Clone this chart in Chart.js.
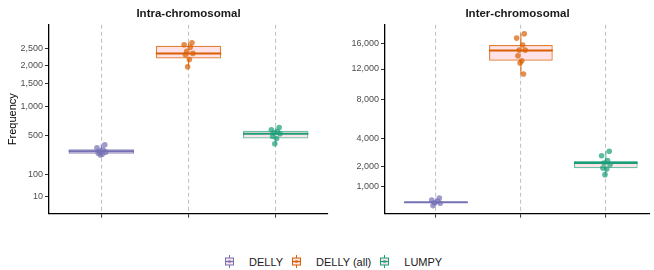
<!DOCTYPE html>
<html>
<head>
<meta charset="utf-8">
<script src="https://cdn.jsdelivr.net/npm/chart.js@4/dist/chart.umd.min.js"></script>
<style>
  body { margin: 0; width: 654px; height: 270px; background: #fff; overflow: hidden;
         font-family: "Liberation Sans", Arial, sans-serif; }
  canvas { position: absolute; top: 0; }
  #intraChart { left: 0; }
  #interChart { left: 333px; }
  #legend { position: absolute; left: 225px; top: 255px; display: flex; align-items: center;
            font-size: 11px; color: #1a1a1a; }
  #legend svg { margin-right: 15px; }
  #legend span { margin-right: 9px; }
</style>
</head>
<body>
<canvas id="intraChart" width="333" height="221"></canvas>
<canvas id="interChart" width="321" height="221"></canvas>
<div id="legend"></div>

<script>
// ---- data ----
const tools = ["DELLY", "DELLY (all)", "LUMPY"];

// Intra-chromosomal
const intra_points = [
  [377, 340, 322, 305, 292, 280, 270, 262],
  [2680, 2620, 2540, 2410, 2345, 2300, 2160, 1950],
  [620, 585, 560, 539, 525, 486, 459, 390]
];
const intra_lo  = [262, 1960, 390];
const intra_q1  = [275, 2193, 459];
const intra_med = [303, 2344, 525];
const intra_q3  = [325, 2586, 569];
const intra_hi  = [377, 2680, 620];
const intra_ticks = [10, 100, 500, 1000, 1500, 2000, 2500];

// Inter-chromosomal
const inter_points = [
  [571, 509, 470, 430, 415, 354],
  [17670, 16920, 15740, 14910, 14900, 14000, 13230, 12880, 11280],
  [3010, 2700, 2370, 2220, 2120, 1920, 1860, 1550]
];
const inter_lo  = [354, 11280, 1550];
const inter_q1  = [430, 13230, 1900];
const inter_med = [440, 14850, 2220];
const inter_q3  = [450, 15740, 2350];
const inter_hi  = [571, 17670, 3010];
const inter_ticks = [1000, 2000, 4000, 8000, 12000, 16000];

// ---- styles ----
const COLORS = ["#7570B3", "#D95F02", "#1B9E77"];
const POINT_COLORS = ["rgba(117,112,179,0.7)", "rgba(217,95,2,0.7)", "rgba(27,158,119,0.7)"];
const EDGE_COLORS = ["rgba(117,112,179,0.8)", "rgba(217,95,2,0.8)", "rgba(27,158,119,0.65)"];
const BOX_FILL = "rgba(255,192,203,0.45)";
const BOX_W = 0.75;  // box width in category units (ggplot default)
const JIT = [0.04, -0.05, 0.02, -0.02, 0.05, -0.035, 0.01, -0.01, 0.03];

// square-root y scale (like ggplot scale_y_sqrt)
const tf = v => Math.sign(v) * Math.sqrt(Math.abs(v));
const itf = s => Math.sign(s) * s * s;

class SqrtScale extends Chart.LinearScale {
  configure() {
    super.configure();
    this._sMin = tf(this.min);
    this._sMax = tf(this.max);
  }
  getPixelForValue(v) {
    return this.getPixelForDecimal((tf(v) - this._sMin) / (this._sMax - this._sMin));
  }
  getValueForPixel(p) {
    return itf(this._sMin + this.getDecimalForPixel(p) * (this._sMax - this._sMin));
  }
}
SqrtScale.id = "sqrt";
SqrtScale.defaults = Chart.LinearScale.defaults;
Chart.register(SqrtScale);

function makeChart(id, title, points, lo, q1, med, q3, hi, yTicks, yMin, yMax, xMax, opt) {
  const jitterData = [];
  points.forEach((vals, i) => {
    vals.forEach((v, j) => jitterData.push({ x: i + JIT[j % JIT.length], y: v, c: i }));
  });

  const datasets = [
    {
      type: "scatter",
      order: 0,
      data: jitterData,
      pointRadius: 2.8,
      pointBorderWidth: 0,
      pointBackgroundColor: ctx => POINT_COLORS[ctx.raw.c],
    },
    {
      type: "bar",
      order: 3,
      grouped: false,
      data: tools.map((t, i) => ({ x: i, y: [q1[i], q3[i]] })),
      backgroundColor: BOX_FILL,
      borderColor: EDGE_COLORS,
      borderWidth: 1.2,
      borderSkipped: false,
      barPercentage: BOX_W,
      categoryPercentage: 1,
    },
  ];

  // median segment + whiskers, one pair of line datasets per tool
  tools.forEach((t, i) => {
    datasets.push({
      type: "line",
      order: 1,
      data: [{ x: i - BOX_W / 2, y: med[i] }, { x: i + BOX_W / 2, y: med[i] }],
      borderColor: COLORS[i],
      borderWidth: 2,
      pointRadius: 0,
    });
    datasets.push({
      type: "line",
      order: 2,
      data: [{ x: i, y: lo[i] }, { x: i, y: q1[i] }, { x: i, y: null },
             { x: i, y: q3[i] }, { x: i, y: hi[i] }],
      borderColor: EDGE_COLORS[i],
      borderWidth: 1.2,
      pointRadius: 0,
      spanGaps: false,
    });
  });

  return new Chart(document.getElementById(id), {
    type: "bar",
    data: { datasets },
    options: {
      responsive: false,
      animation: false,
      events: [],
      layout: { padding: { left: 0, right: opt.padRight, top: 0, bottom: 0 } },
      plugins: {
        legend: { display: false },
        tooltip: { enabled: false },
        title: {
          display: true,
          text: title,
          fullSize: false,
          color: "#1a1a1a",
          font: { family: "Liberation Sans", size: 11.5, weight: "bold" },
          padding: { top: 7, bottom: 4 },
        },
      },
      scales: {
        x: {
          type: "linear",
          min: -0.6,
          max: xMax,
          offset: false,
          afterBuildTicks: axis => { axis.ticks = [0, 1, 2].map(v => ({ value: v })); },
          afterFit: axis => { axis.height = 5; },
          ticks: { display: false },
          grid: {
            display: true,
            offset: false,
            drawOnChartArea: true,
            drawTicks: true,
            tickLength: 4,
            color: "#c4c4c4",
            lineWidth: 1.1,
            tickColor: "#333",
            tickWidth: 1,
          },
          border: { display: true, color: "#000", width: 1.3, dash: [4, 3] },
        },
        y: {
          type: "sqrt",
          min: yMin,
          max: yMax,
          afterBuildTicks: axis => { axis.ticks = yTicks.map(v => ({ value: v })); },
          afterFit: axis => { axis.width = opt.axisWidth; },
          ticks: {
            padding: 2,
            color: "#4d4d4d",
            font: { family: "Liberation Sans", size: 9 },
            callback: v => v.toLocaleString("en-US"),
          },
          grid: {
            display: true,
            drawOnChartArea: false,
            drawTicks: true,
            tickLength: 4,
            tickColor: "#333",
          },
          border: { display: true, color: "#000", width: 1.3 },
          title: {
            display: opt.yTitle,
            text: "Frequency",
            color: "#000",
            font: { family: "Liberation Sans", size: 11 },
            padding: { top: 6, bottom: 0 },
          },
        },
      },
    },
  });
}

makeChart("intraChart", "Intra-chromosomal", intra_points,
  intra_lo, intra_q1, intra_med, intra_q3, intra_hi,
  intra_ticks, -5.8, 3306, 2.6,
  { axisWidth: 49, padRight: 5, yTitle: true });

makeChart("interChart", "Inter-chromosomal", inter_points,
  inter_lo, inter_q1, inter_med, inter_q3, inter_hi,
  inter_ticks, 182, 19296, 2.52,
  { axisWidth: 52, padRight: 0, yTitle: false });

// legend (box glyph + label)
const legend = document.getElementById("legend");
tools.forEach((t, i) => {
  legend.insertAdjacentHTML("beforeend",
    '<svg width="9" height="13" viewBox="0 0 9 13">' +
    '<line x1="4.5" y1="0" x2="4.5" y2="13" stroke="' + COLORS[i] + '" stroke-width="1"/>' +
    '<rect x="0.5" y="3" width="8" height="7" fill="#fde3e6" stroke="' + COLORS[i] + '" stroke-width="1"/>' +
    '<line x1="0.5" y1="6.5" x2="8.5" y2="6.5" stroke="' + COLORS[i] + '" stroke-width="1.2"/>' +
    '<circle cx="4.5" cy="6.5" r="1.6" fill="' + POINT_COLORS[i] + '"/></svg>' +
    "<span>" + t + "</span>");
});
</script>
</body>
</html>
